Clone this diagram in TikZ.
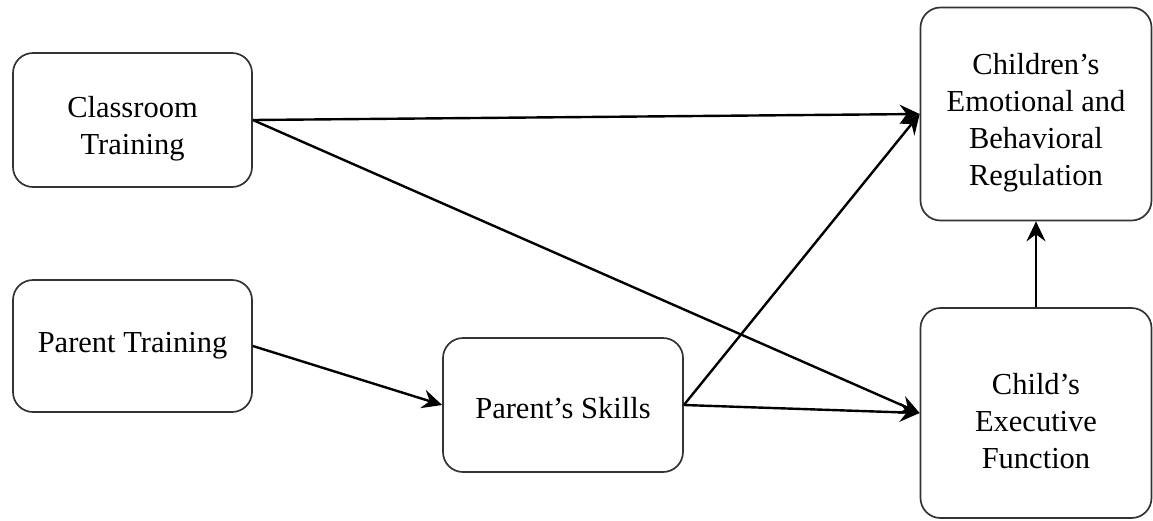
\documentclass[tikz,border=0pt]{standalone}
\usepackage{fontspec}
\setmainfont{Liberation Serif}
\usetikzlibrary{arrows.meta}
\newcommand{\topgap}[1]{\rule{0pt}{#1}}
\begin{document}
\begin{tikzpicture}[
                x=1pt, y=-1pt,
                every node/.style={draw=black!80, rounded corners=20pt, line width=1.7pt, align=center,
                    font=\fontsize{30.5}{37}\selectfont, inner sep=0pt},
                link/.style={line width=2.4pt, -{Stealth[length=20pt, width=19pt, inset=7pt]}},
            ]
            \useasboundingbox (0,0) rectangle (1153,520);
            \node[minimum width=239pt, minimum height=134pt] (classroom) at (132.5,120) {\topgap{39pt}Classroom\\Training};
            \node[minimum width=239pt, minimum height=132pt] (parent) at (132.5,346) {Parent Training};
            \node[minimum width=240pt, minimum height=134pt] (skills) at (563,405) {\topgap{27pt}Parent’s Skills};
            \node[minimum width=231pt, minimum height=213pt] (regulation) at (1036,114) {\topgap{39pt}Children’s\\Emotional and\\Behavioral\\Regulation};
            \node[minimum width=231pt, minimum height=210pt] (executive) at (1036,413) {\topgap{37pt}Child’s\\Executive\\Function};
            % paths
            \draw[link] (classroom.east) -- (regulation.west);
            \draw[link] (classroom.east) -- (executive.west);
            \draw[link] (parent.east) -- (skills.west);
            \draw[link] (skills.east) -- (regulation.west);
            \draw[link] (skills.east) -- (executive.west);
            \draw[link] (executive.north) -- (regulation.south);
            \end{tikzpicture}
\end{document}
